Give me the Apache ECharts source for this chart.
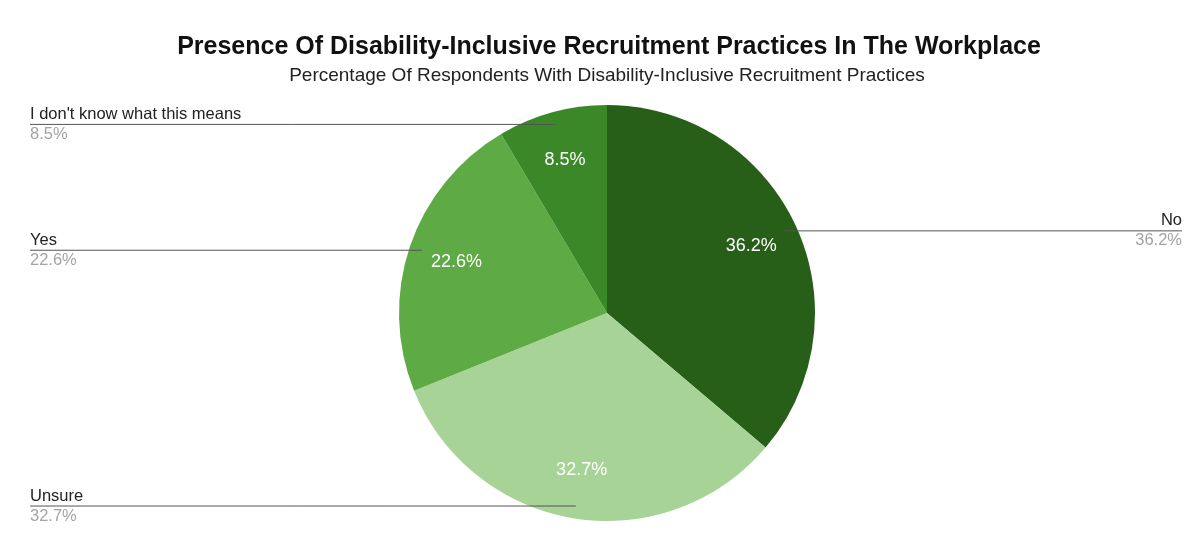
<!DOCTYPE html>
<html>
<head>
<meta charset="utf-8">
<script src="https://cdn.jsdelivr.net/npm/echarts@6/dist/echarts.min.js"></script>
<style>
  html, body { margin: 0; padding: 0; background: #ffffff; }
  #chart { width: 1190px; height: 541px; }
</style>
</head>
<body>
<div id="chart"></div>
<script>
// Chart texts and values
const titleText = 'Presence Of Disability-Inclusive Recruitment Practices In The Workplace';
const subtitleText = 'Percentage Of Respondents With Disability-Inclusive Recruitment Practices';
const categories = ['No', 'Unsure', 'Yes', "I don't know what this means"];
const shares = [36.2, 32.7, 22.6, 8.5];
const sliceColors = ['#275f19', '#a8d396', '#5eaa45', '#3b8828'];

// Layout
const CX = 607, CY = 313, R = 208;
const LEFT_EDGE = 30, RIGHT_EDGE = 1182;
const FONT = "'Liberation Sans', Arial, Helvetica, sans-serif";

// Mid angle of each slice, measured clockwise from 12 o'clock
const total = shares.reduce((a, b) => a + b, 0);
const midAngles = [];
let acc = 0;
shares.forEach(v => { midAngles.push((acc + v / 2) / total * 2 * Math.PI); acc += v; });

const pieData = categories.map((name, i) => ({ name, value: shares[i], itemStyle: { color: sliceColors[i] } }));
const plainData = categories.map((name, i) => ({ name, value: shares[i] }));

const chart = echarts.init(document.getElementById('chart'), null, { renderer: 'canvas' });

chart.setOption({
  animation: false,
  backgroundColor: '#ffffff',
  graphic: [
    {
      type: 'text', x: 609, y: 47,
      style: { text: titleText, font: 'bold 25px ' + FONT, fill: '#111', textAlign: 'center', textVerticalAlign: 'middle' }
    },
    {
      type: 'text', x: 607, y: 76,
      style: { text: subtitleText, font: '19px ' + FONT, fill: '#222', textAlign: 'center', textVerticalAlign: 'middle' }
    }
  ],
  series: [
    {
      // the slices
      type: 'pie',
      z: 2,
      center: [CX, CY],
      radius: R,
      startAngle: 90,
      clockwise: true,
      silent: true,
      data: pieData,
      label: { show: false },
      labelLine: { show: false }
    },
    {
      // percentage labels inside the slices
      type: 'pie',
      z: 3,
      center: [CX, CY],
      radius: [0.5 * R, R],
      startAngle: 90,
      clockwise: true,
      silent: true,
      data: plainData,
      itemStyle: { color: 'rgba(0,0,0,0)' },
      label: {
        show: true,
        position: 'inside',
        formatter: p => p.value.toFixed(1) + '%',
        color: '#ffffff',
        fontSize: 18,
        fontFamily: FONT
      },
      labelLine: { show: false }
    },
    {
      // category labels at the chart edges, with leader lines
      type: 'pie',
      z: 4,
      center: [CX, CY],
      radius: R,
      startAngle: 90,
      clockwise: true,
      silent: true,
      data: plainData,
      itemStyle: { color: 'rgba(0,0,0,0)' },
      label: {
        show: true,
        position: 'outer',
        formatter: p => '{n|' + p.name + '}\n{v|' + p.value.toFixed(1) + '%}',
        rich: {
          n: { fontSize: 16.5, color: '#222', lineHeight: 20, fontFamily: FONT },
          v: { fontSize: 16.5, color: '#a3a3a3', lineHeight: 20, fontFamily: FONT }
        }
      },
      labelLine: { show: true, lineStyle: { color: '#555', width: 1 } },
      labelLayout: function (p) {
        const a = midAngles[p.dataIndex];
        const sx = CX + 0.94 * R * Math.sin(a);
        const sy = CY - 0.94 * R * Math.cos(a);
        const right = Math.sin(a) > 0;
        const ex = right ? RIGHT_EDGE : LEFT_EDGE;
        return {
          x: ex,
          y: sy,
          align: right ? 'right' : 'left',
          verticalAlign: 'middle',
          labelLinePoints: [[sx, sy], [sx, sy], [ex, sy]]
        };
      }
    }
  ]
});
</script>
</body>
</html>
